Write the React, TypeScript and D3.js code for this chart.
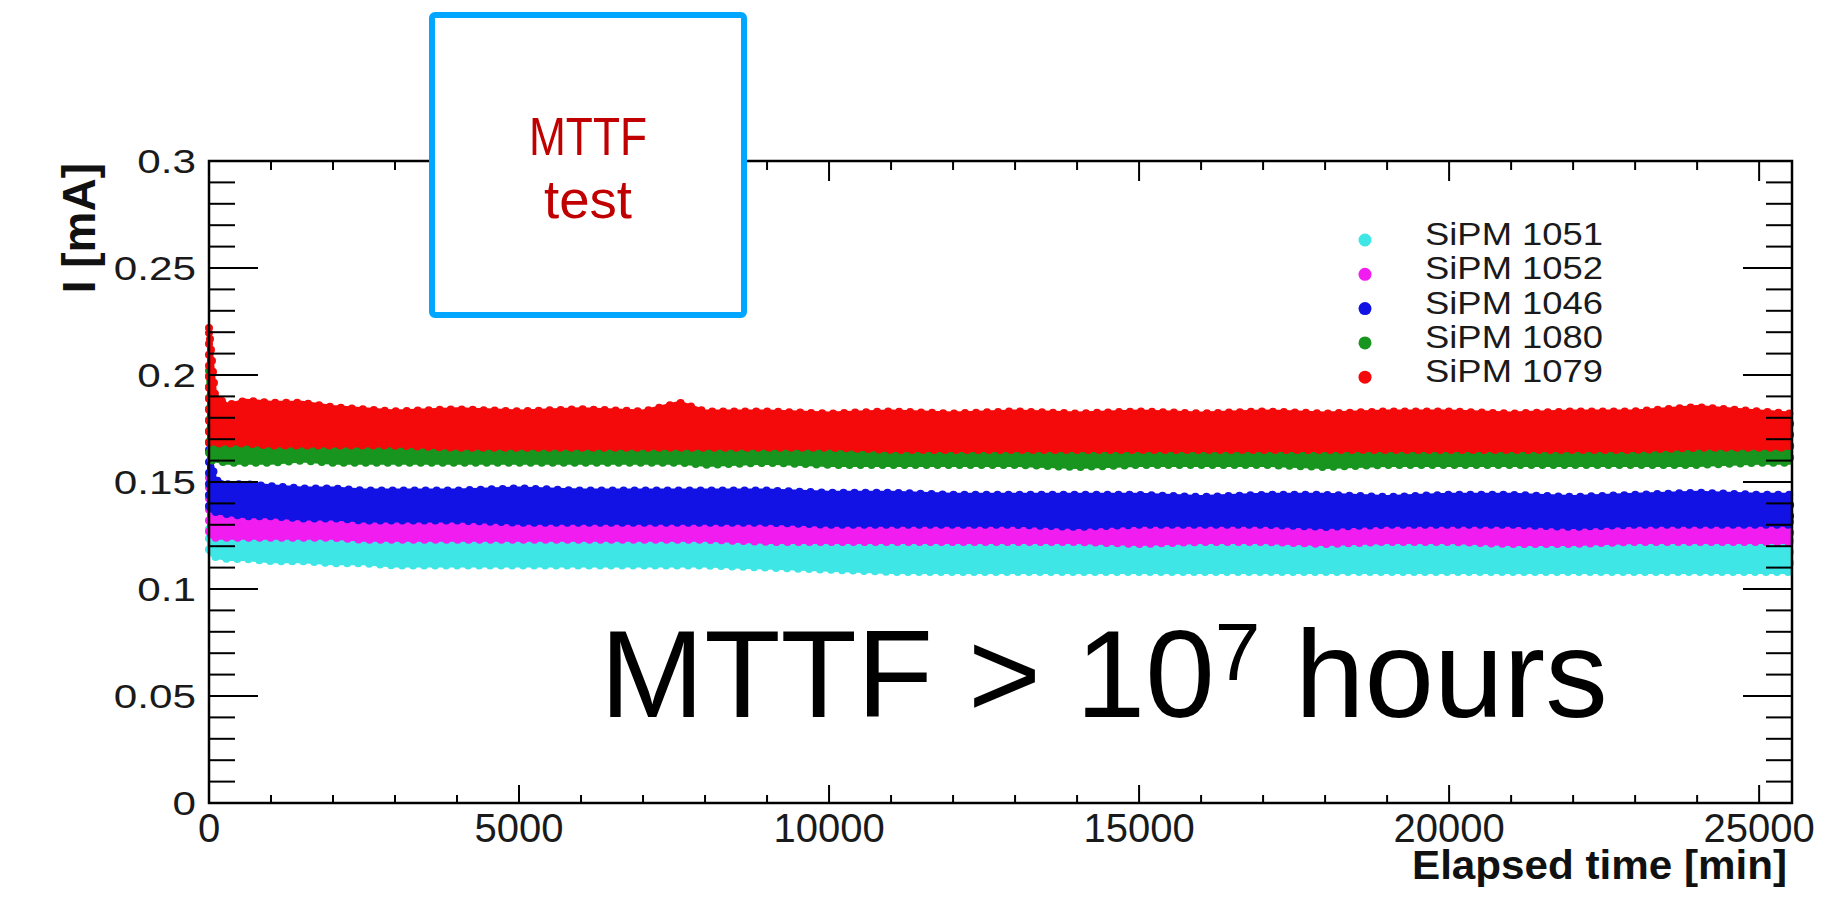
import React from "react";
import * as d3 from "d3";

const TIMES = [0, 100, 300, 600, 1000, 1500, 2000, 2500, 3000, 4000, 5000, 6000, 7000, 7600, 8000, 9000, 10000, 11000, 12000, 13000, 14000, 15000, 16000, 17000, 18000, 19000, 20000, 21000, 22000, 23000, 24000, 25000, 25500];

const CYAN_HI = [0.128, 0.126, 0.125, 0.125, 0.125, 0.125, 0.124, 0.124, 0.124, 0.124, 0.124, 0.124, 0.124, 0.124, 0.124, 0.123, 0.123, 0.123, 0.123, 0.123, 0.123, 0.123, 0.123, 0.123, 0.123, 0.123, 0.123, 0.123, 0.123, 0.123, 0.123, 0.123, 0.123];
const CYAN_LO = [0.117, 0.115, 0.114, 0.114, 0.113, 0.113, 0.112, 0.112, 0.111, 0.111, 0.111, 0.111, 0.111, 0.111, 0.111, 0.110, 0.109, 0.108, 0.108, 0.108, 0.108, 0.108, 0.108, 0.108, 0.108, 0.108, 0.108, 0.108, 0.108, 0.108, 0.108, 0.108, 0.108];

const MAGENTA_HI = [0.152, 0.140, 0.138, 0.137, 0.137, 0.136, 0.136, 0.135, 0.135, 0.135, 0.134, 0.134, 0.134, 0.134, 0.134, 0.134, 0.133, 0.133, 0.133, 0.133, 0.132, 0.133, 0.133, 0.133, 0.132, 0.133, 0.133, 0.133, 0.132, 0.133, 0.133, 0.133, 0.133];
const MAGENTA_LO = [0.125, 0.124, 0.124, 0.124, 0.124, 0.124, 0.124, 0.123, 0.123, 0.123, 0.123, 0.123, 0.123, 0.123, 0.123, 0.122, 0.122, 0.122, 0.122, 0.122, 0.122, 0.121, 0.122, 0.122, 0.121, 0.122, 0.122, 0.121, 0.121, 0.122, 0.122, 0.122, 0.122];

const BLUE_HI = [0.165, 0.151, 0.149, 0.149, 0.148, 0.147, 0.147, 0.146, 0.146, 0.146, 0.147, 0.146, 0.146, 0.146, 0.146, 0.146, 0.145, 0.145, 0.144, 0.144, 0.144, 0.144, 0.143, 0.144, 0.144, 0.143, 0.144, 0.144, 0.143, 0.144, 0.145, 0.144, 0.144];
const BLUE_LO = [0.137, 0.136, 0.135, 0.134, 0.134, 0.133, 0.133, 0.132, 0.132, 0.132, 0.131, 0.131, 0.131, 0.131, 0.131, 0.131, 0.130, 0.130, 0.130, 0.130, 0.129, 0.130, 0.130, 0.130, 0.129, 0.130, 0.130, 0.130, 0.129, 0.130, 0.130, 0.130, 0.130];

const GREEN_HI = [0.202, 0.176, 0.172, 0.171, 0.171, 0.171, 0.170, 0.170, 0.170, 0.170, 0.170, 0.170, 0.170, 0.170, 0.170, 0.169, 0.169, 0.169, 0.169, 0.169, 0.169, 0.169, 0.169, 0.169, 0.169, 0.169, 0.169, 0.169, 0.169, 0.169, 0.169, 0.169, 0.169];
const GREEN_LO = [0.160, 0.160, 0.159, 0.159, 0.159, 0.160, 0.159, 0.159, 0.159, 0.159, 0.159, 0.159, 0.159, 0.159, 0.158, 0.159, 0.158, 0.158, 0.158, 0.158, 0.157, 0.158, 0.158, 0.158, 0.157, 0.158, 0.158, 0.158, 0.158, 0.158, 0.158, 0.159, 0.159];

const RED_HI = [0.222, 0.190, 0.186, 0.188, 0.187, 0.187, 0.185, 0.184, 0.183, 0.184, 0.183, 0.184, 0.183, 0.187, 0.183, 0.183, 0.182, 0.183, 0.182, 0.183, 0.182, 0.183, 0.182, 0.183, 0.182, 0.183, 0.183, 0.182, 0.183, 0.183, 0.185, 0.183, 0.182];
const RED_LO = [0.168, 0.168, 0.168, 0.168, 0.167, 0.167, 0.167, 0.167, 0.167, 0.166, 0.166, 0.166, 0.166, 0.166, 0.166, 0.166, 0.166, 0.165, 0.165, 0.165, 0.165, 0.165, 0.165, 0.165, 0.165, 0.165, 0.165, 0.165, 0.165, 0.165, 0.166, 0.166, 0.166];

const SERIES_NAMES = ["SiPM 1051", "SiPM 1052", "SiPM 1046", "SiPM 1080", "SiPM 1079"];
const SERIES_COLORS = ["#3fe6e6", "#f01cf0", "#1212e4", "#18951f", "#f40a0a"];
const SERIES_HI = [CYAN_HI, MAGENTA_HI, BLUE_HI, GREEN_HI, RED_HI];
const SERIES_LO = [CYAN_LO, MAGENTA_LO, BLUE_LO, GREEN_LO, RED_LO];

const X_MAJOR = [0, 5000, 10000, 15000, 20000, 25000];
const X_MINOR = d3.range(1000, 25001, 1000).filter((v) => v % 5000 !== 0);
const Y_MAJOR = [0, 0.05, 0.1, 0.15, 0.2, 0.25, 0.3];
const Y_MAJOR_LABELS = ["0", "0.05", "0.1", "0.15", "0.2", "0.25", "0.3"];
const Y_MINOR = d3.range(1, 30).map((v) => v / 100).filter((v) => Math.round(v * 100) % 5 !== 0);

const FONT = "'Liberation Sans', Arial, Helvetica, sans-serif";

export default function App() {
  const W = 1843, H = 899;
  const left = 209, right = 1792, top = 161, bottom = 803;
  const x = d3.scaleLinear().domain([0, 25530]).range([left, right]);
  const y = d3.scaleLinear().domain([0, 0.3]).range([bottom, top]);

  const area = (hi: number[], lo: number[]) =>
    d3
      .area<number>()
      .x((_, i) => x(TIMES[i]))
      .y0((_, i) => y(lo[i]))
      .y1((_, i) => y(hi[i]))(TIMES.map((t) => t)) || "";

  const labelW = (s: string) => {
    const digits = s.replace(".", "").length;
    const dots = s.includes(".") ? 1 : 0;
    return (digits * 0.556 + dots * 0.278) * 33 * 1.28;
  };

  return (
    <svg width={W} height={H} style={{ position: "absolute", left: 0, top: 0, background: "#fff" }} fontFamily={FONT}>
      <rect x={0} y={0} width={W} height={H} fill="#fff" />

      {/* data bands */}
      {SERIES_NAMES.map((name, k) => {
        const d = area(SERIES_HI[k], SERIES_LO[k]);
        return (
          <g key={name}>
            <path d={d} fill={SERIES_COLORS[k]} stroke={SERIES_COLORS[k]} strokeWidth={4} strokeLinejoin="round" />
            <path
              d={d}
              fill="none"
              stroke={SERIES_COLORS[k]}
              strokeWidth={8}
              strokeLinecap="round"
              strokeDasharray="0 11"
            />
          </g>
        );
      })}

      {/* frame */}
      <rect x={left} y={top} width={right - left} height={bottom - top} fill="none" stroke="#000" strokeWidth={2.5} />

      {/* x ticks bottom & top */}
      {X_MAJOR.map((v) => (
        <g key={"xM" + v}>
          <line x1={x(v)} x2={x(v)} y1={bottom} y2={bottom - 18} stroke="#000" strokeWidth={2} />
          <line x1={x(v)} x2={x(v)} y1={top} y2={top + 20} stroke="#000" strokeWidth={2} />
          <text x={x(v)} y={842} fontSize={40} textAnchor="middle" fill="#1a1a1a">{v}</text>
        </g>
      ))}
      {X_MINOR.map((v) => (
        <g key={"xm" + v}>
          <line x1={x(v)} x2={x(v)} y1={bottom} y2={bottom - 8} stroke="#000" strokeWidth={2} />
          <line x1={x(v)} x2={x(v)} y1={top} y2={top + 9} stroke="#000" strokeWidth={2} />
        </g>
      ))}

      {/* y ticks left & right */}
      {Y_MAJOR.map((v, i) => (
        <g key={"yM" + v}>
          <line x1={left} x2={left + 49} y1={y(v)} y2={y(v)} stroke="#000" strokeWidth={2} />
          <line x1={right} x2={right - 49} y1={y(v)} y2={y(v)} stroke="#000" strokeWidth={2} />
          <text
            x={196}
            y={y(v) + 12}
            fontSize={33}
            textAnchor="end"
            fill="#1a1a1a"
            textLength={labelW(Y_MAJOR_LABELS[i])}
            lengthAdjust="spacingAndGlyphs"
          >
            {Y_MAJOR_LABELS[i]}
          </text>
        </g>
      ))}
      {Y_MINOR.map((v) => (
        <g key={"ym" + v}>
          <line x1={left} x2={left + 26} y1={y(v)} y2={y(v)} stroke="#000" strokeWidth={2} />
          <line x1={right} x2={right - 26} y1={y(v)} y2={y(v)} stroke="#000" strokeWidth={2} />
        </g>
      ))}

      {/* axis titles */}
      <text
        x={1787}
        y={879}
        fontSize={40}
        fontWeight="bold"
        textAnchor="end"
        fill="#111"
        textLength={375}
        lengthAdjust="spacingAndGlyphs"
      >
        Elapsed time [min]
      </text>
      <text
        transform="translate(95,163) rotate(-90)"
        fontSize={46}
        fontWeight="bold"
        textAnchor="end"
        fill="#111"
      >
        I [mA]
      </text>

      {/* legend */}
      {SERIES_NAMES.map((name, k) => (
        <g key={"leg" + name}>
          <circle cx={1365} cy={240 + k * 34.3} r={6.5} fill={SERIES_COLORS[k]} />
          <text
            x={1425}
            y={245 + k * 34.3}
            fontSize={32}
            fill="#1a1a1a"
            textLength={178}
            lengthAdjust="spacingAndGlyphs"
          >
            {name}
          </text>
        </g>
      ))}

      {/* MTTF test box */}
      <rect x={432} y={15} width={312} height={300} rx={3} fill="#fff" stroke="#00a6ff" strokeWidth={6} />
      <text x={588} y={155} fontSize={53} textAnchor="middle" fill="#c00000" textLength={118} lengthAdjust="spacingAndGlyphs">
        MTTF
      </text>
      <text x={588} y={218} fontSize={53} textAnchor="middle" fill="#c00000" textLength={88} lengthAdjust="spacingAndGlyphs">
        test
      </text>

      {/* big annotation */}
      <text x={600} y={717} fontSize={125} fill="#000">
        MTTF &gt; 10
        <tspan fontSize={82} dy={-37}>7</tspan>
        <tspan fontSize={125} dy={37}> hours</tspan>
      </text>
    </svg>
  );
}
